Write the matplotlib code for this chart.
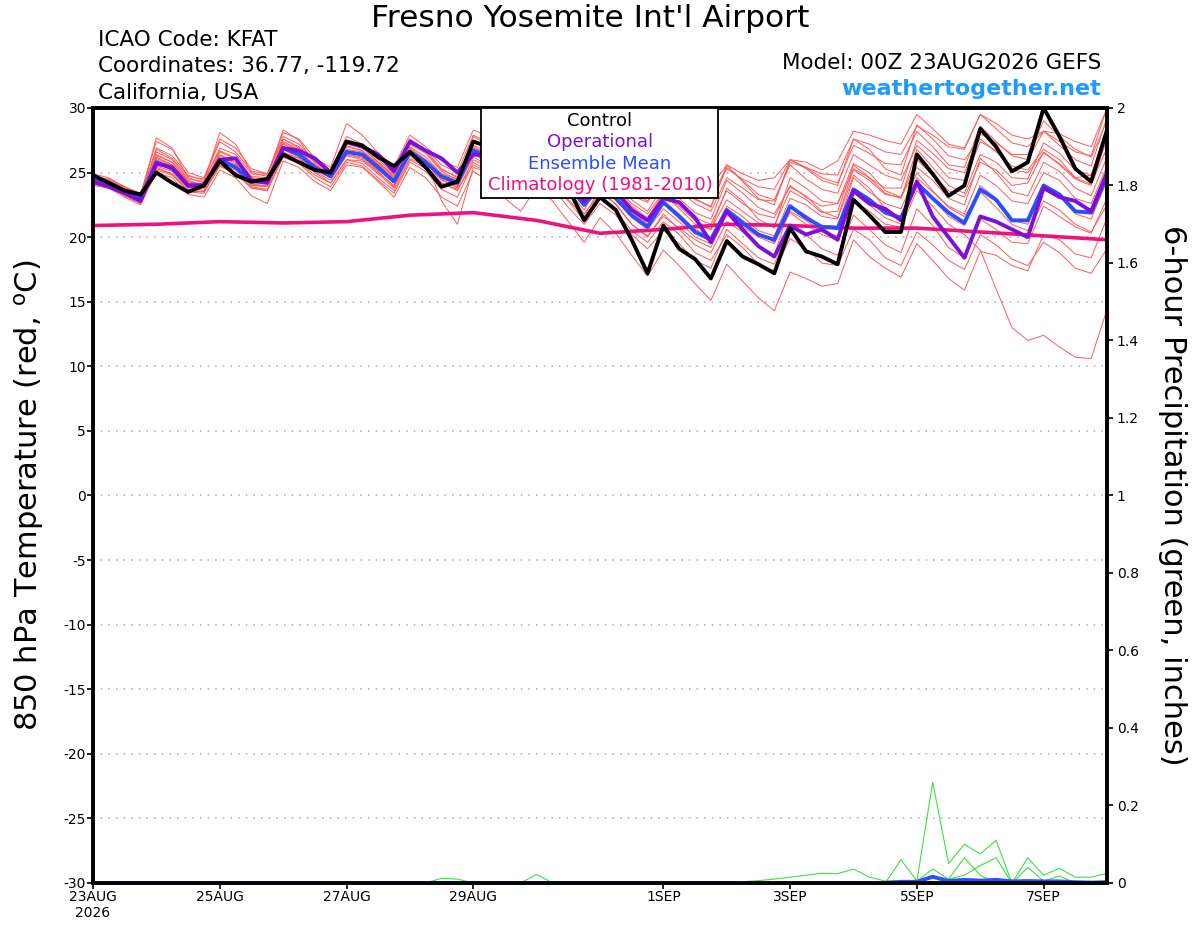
import matplotlib
matplotlib.use('Agg')
import matplotlib.pyplot as plt
from matplotlib.patches import Rectangle

plt.rcParams['font.family'] = ['DejaVu Sans']
plt.rcParams['axes.unicode_minus'] = False

# forecast hours (6-hourly) and daily climatology hours
hours = list(range(0, 385, 6))
clim_hours = list(range(0, 385, 24))

control = [24.8, 24.2, 23.6, 23.3, 25.0, 24.2, 23.5, 24.0, 25.9, 24.8, 24.3, 24.5,
           26.4, 25.8, 25.2, 25.0, 27.4, 27.1, 26.2, 25.5, 26.6, 25.4, 23.9, 24.3,
           27.4, 27.0, 26.0, 24.8, 26.4, 25.3, 23.8, 21.3, 23.1, 22.1, 19.8, 17.2,
           20.9, 19.1, 18.3, 16.8, 19.7, 18.5, 17.9, 17.2, 20.7, 18.9, 18.5, 17.9,
           22.9, 21.7, 20.4, 20.4, 26.4, 24.9, 23.2, 24.0, 28.4, 27.0, 25.1, 25.8,
           30.0, 27.8, 25.3, 24.3, 28.3]
operational = [24.3, 23.9, 23.4, 22.8, 25.7, 25.4, 24.0, 24.0, 26.0, 26.1, 24.4, 24.2,
               26.9, 26.7, 26.1, 25.0, 27.4, 27.0, 26.4, 25.1, 27.4, 26.7, 26.1, 25.0,
               26.4, 26.3, 25.8, 24.6, 26.8, 25.5, 24.3, 22.8, 24.5, 23.5, 22.1, 21.3,
               23.0, 22.7, 21.5, 19.6, 22.0, 20.6, 19.3, 18.5, 20.9, 20.2, 20.6, 19.8,
               23.6, 22.6, 22.2, 21.3, 24.3, 21.6, 20.0, 18.4, 21.6, 21.2, 20.6, 20.0,
               23.8, 23.1, 22.8, 22.0, 25.0]
ens_mean = [24.4, 24.2, 23.6, 23.0, 25.8, 25.3, 24.0, 24.0, 26.0, 25.4, 24.3, 24.3,
            26.9, 26.4, 25.4, 24.7, 26.6, 26.4, 25.4, 24.3, 26.6, 25.8, 24.7, 24.2,
            26.7, 26.2, 25.6, 24.8, 26.0, 25.2, 24.0, 22.5, 24.0, 23.0, 21.7, 20.8,
            22.7, 21.6, 20.4, 19.8, 22.1, 21.1, 20.2, 19.8, 22.4, 21.5, 20.8, 20.7,
            23.7, 22.9, 21.9, 21.5, 24.2, 23.0, 21.9, 21.1, 23.7, 22.9, 21.3, 21.3,
            24.0, 23.3, 22.0, 21.9, 24.7]
climatology = [20.9, 21.0, 21.2, 21.1, 21.2, 21.7, 21.9, 21.3, 20.3, 20.6, 21.0,
               20.9, 20.7, 20.7, 20.4, 20.1, 19.8]

member_01 = [24.9, 24.6, 23.9, 23.3, 27.4, 26.8, 25.0, 24.6, 27.6, 26.9, 25.3, 24.9,
             28.1, 27.6, 26.1, 25.4, 28.8, 27.9, 26.5, 25.5, 27.9, 27.0, 25.9, 25.4,
             28.3, 27.8, 27.0, 26.2, 27.5, 26.8, 25.4, 24.3, 26.2, 25.8, 24.5, 23.8,
             25.8, 25.0, 24.1, 23.9, 25.6, 24.9, 24.4, 24.6, 26.0, 25.8, 25.2, 25.9,
             28.2, 27.9, 27.5, 27.2, 29.5, 28.4, 27.2, 26.9, 29.5, 28.8, 27.9, 27.6,
             28.2, 28.0, 27.4, 27.0, 30.0]
member_02 = [24.1, 23.9, 23.2, 22.6, 25.2, 24.8, 23.6, 23.5, 25.5, 24.9, 23.8, 23.6,
             26.5, 26.1, 25.0, 24.2, 26.0, 25.9, 24.9, 23.8, 26.1, 25.5, 24.2, 23.6,
             26.0, 25.4, 24.6, 23.9, 25.3, 24.9, 23.5, 21.8, 23.4, 22.6, 21.0, 20.1,
             21.6, 20.7, 19.8, 19.2, 21.8, 20.8, 20.0, 19.5, 22.0, 21.3, 20.4, 20.1,
             22.8, 22.0, 21.0, 20.8, 23.6, 22.4, 21.0, 20.2, 19.0, 16.0, 13.0, 12.0,
             12.4, 11.5, 10.7, 10.6, 14.4]
member_03 = [24.2, 23.8, 23.1, 22.5, 25.0, 24.6, 23.3, 23.1, 25.2, 24.6, 23.2, 22.6,
             25.9, 25.4, 24.3, 23.6, 25.6, 25.4, 24.3, 23.1, 25.4, 24.6, 23.1, 22.4,
             25.1, 24.3, 23.0, 22.0, 23.9, 22.8, 21.2, 19.6, 21.5, 20.3, 18.6, 17.0,
             19.0, 17.8, 16.4, 15.1, 17.9, 16.6, 15.3, 14.3, 17.3, 16.8, 16.2, 16.4,
             19.8, 18.5, 17.6, 16.9, 19.5, 18.2, 16.8, 15.9, 18.9, 18.6, 17.8, 17.4,
             20.2, 19.8, 18.7, 18.4, 21.5]
member_04 = [24.7, 24.5, 23.9, 23.4, 26.6, 26.0, 24.5, 24.3, 26.9, 26.4, 24.9, 24.8,
             27.8, 27.2, 25.9, 25.1, 27.5, 27.1, 26.0, 24.9, 27.4, 26.6, 25.2, 24.7,
             27.5, 27.0, 26.4, 25.6, 26.9, 26.3, 25.2, 24.0, 25.4, 24.6, 23.5, 22.8,
             24.5, 23.6, 22.6, 22.0, 24.6, 23.8, 22.9, 22.8, 25.8, 25.4, 24.6, 24.2,
             27.1, 26.5, 25.7, 25.6, 28.2, 27.0, 25.6, 25.4, 28.6, 27.4, 26.3, 26.0,
             28.2, 27.1, 26.0, 25.5, 29.3]
member_05 = [24.5, 24.3, 23.8, 23.2, 26.2, 25.6, 24.3, 24.1, 26.4, 25.8, 24.6, 24.5,
             27.4, 26.8, 25.8, 25.0, 27.0, 26.7, 25.7, 24.6, 27.0, 26.2, 24.9, 24.3,
             27.0, 26.4, 25.5, 24.6, 26.3, 25.6, 24.6, 23.4, 24.8, 23.9, 22.6, 21.8,
             23.5, 22.6, 21.5, 21.0, 23.6, 22.6, 21.8, 21.5, 24.0, 23.1, 22.4, 22.6,
             25.7, 25.0, 23.6, 23.1, 26.0, 24.8, 23.6, 23.1, 25.8, 25.2, 24.0, 24.2,
             26.6, 25.6, 24.5, 24.0, 27.6]
member_06 = [24.0, 23.8, 23.3, 22.7, 25.4, 24.9, 23.7, 23.5, 25.5, 25.0, 23.9, 23.7,
             26.3, 25.8, 24.8, 24.2, 26.0, 25.7, 24.6, 23.6, 26.0, 25.3, 24.2, 23.7,
             25.6, 25.0, 24.2, 23.4, 24.6, 23.8, 22.3, 21.0, 22.6, 21.7, 20.2, 19.1,
             20.5, 19.5, 18.2, 17.6, 20.6, 19.5, 18.4, 17.9, 20.8, 20.2, 19.1, 18.6,
             21.7, 20.6, 19.4, 18.8, 22.2, 20.9, 19.2, 18.4, 21.4, 20.6, 19.6, 19.5,
             22.4, 21.6, 20.8, 20.3, 23.0]
member_07 = [24.6, 24.3, 23.7, 23.1, 26.0, 25.5, 24.1, 24.2, 26.3, 25.7, 24.5, 24.4,
             27.2, 26.6, 25.6, 24.9, 26.8, 26.6, 25.6, 24.5, 26.9, 26.0, 24.9, 24.5,
             26.9, 26.4, 25.8, 25.0, 26.5, 25.9, 24.8, 23.1, 24.6, 23.8, 22.4, 21.5,
             23.4, 22.2, 21.0, 20.6, 22.9, 22.0, 21.1, 20.9, 23.6, 22.9, 21.9, 22.0,
             25.6, 24.6, 23.4, 23.0, 26.8, 25.4, 24.0, 23.4, 26.4, 25.8, 24.6, 24.5,
             27.3, 26.5, 25.2, 24.8, 28.4]
member_08 = [24.3, 24.0, 23.4, 22.8, 25.5, 25.1, 23.8, 23.8, 25.7, 25.2, 24.0, 24.0,
             26.6, 26.1, 25.1, 24.4, 26.3, 26.0, 25.0, 24.0, 26.3, 25.5, 24.4, 23.9,
             26.2, 25.5, 24.8, 24.0, 25.8, 25.1, 23.9, 22.4, 23.6, 22.9, 21.5, 20.6,
             22.2, 21.2, 20.0, 19.5, 22.2, 21.3, 20.3, 19.6, 21.9, 21.0, 20.2, 19.8,
             23.4, 22.5, 21.5, 21.0, 24.2, 23.0, 21.6, 20.9, 24.0, 23.0, 21.3, 21.0,
             23.9, 23.2, 21.8, 21.4, 24.4]
member_09 = [24.8, 24.4, 23.8, 23.0, 26.9, 26.3, 24.8, 24.4, 26.7, 26.1, 24.5, 24.3,
             27.6, 26.9, 25.4, 24.6, 27.2, 26.9, 25.8, 24.8, 27.5, 26.7, 25.3, 24.6,
             27.1, 26.6, 25.9, 25.0, 26.8, 26.2, 25.1, 23.6, 25.2, 24.3, 23.2, 22.7,
             24.6, 23.9, 22.9, 22.4, 25.4, 24.4, 23.3, 22.9, 25.6, 24.5, 23.7, 23.4,
             26.4, 25.6, 24.8, 24.4, 27.1, 26.0, 24.6, 24.4, 27.4, 26.7, 25.2, 25.0,
             26.5, 25.7, 24.6, 24.1, 26.9]
member_10 = [24.2, 24.0, 23.5, 22.9, 25.8, 25.3, 23.9, 23.6, 25.9, 25.3, 24.1, 24.0,
             26.8, 26.2, 25.2, 24.6, 26.4, 26.1, 25.1, 23.9, 26.7, 25.9, 22.8, 21.0,
             25.4, 25.0, 24.2, 23.5, 25.0, 24.4, 22.9, 21.6, 23.8, 22.5, 21.0, 20.0,
             21.8, 20.6, 19.4, 18.8, 21.2, 20.4, 19.3, 18.6, 22.4, 21.7, 20.8, 20.8,
             24.6, 23.5, 22.6, 22.2, 25.0, 23.6, 22.3, 21.6, 23.5, 22.3, 21.0, 20.5,
             22.8, 22.1, 21.0, 20.4, 22.5]
member_11 = [24.7, 24.4, 23.7, 23.2, 27.7, 26.9, 24.6, 24.2, 28.1, 27.2, 25.0, 24.7,
             28.3, 27.5, 25.7, 24.8, 27.4, 27.0, 25.8, 24.7, 27.2, 26.5, 25.1, 24.4,
             27.8, 27.1, 26.2, 25.3, 27.0, 26.4, 25.0, 23.8, 25.8, 25.1, 23.9, 23.3,
             25.0, 24.1, 23.0, 22.3, 25.6, 24.3, 23.0, 22.5, 26.0, 25.3, 24.4, 24.0,
             27.6, 26.8, 25.3, 24.8, 28.7, 27.6, 26.3, 26.0, 27.6, 26.6, 25.5, 25.2,
             26.8, 26.0, 24.6, 24.8, 28.0]
member_12 = [24.4, 24.1, 23.5, 22.9, 26.4, 25.8, 24.4, 24.0, 26.1, 25.6, 24.3, 24.2,
             27.0, 26.4, 25.4, 24.8, 26.7, 26.4, 25.3, 24.2, 26.8, 26.0, 24.7, 24.1,
             26.6, 26.0, 25.3, 24.5, 26.0, 25.3, 24.2, 22.9, 24.1, 23.3, 22.0, 21.0,
             22.8, 21.8, 20.6, 20.0, 22.4, 21.6, 20.5, 20.1, 23.0, 22.5, 21.6, 21.4,
             24.8, 23.8, 22.2, 21.5, 24.6, 23.5, 22.4, 21.8, 24.8, 24.0, 22.8, 22.6,
             25.0, 24.4, 23.0, 22.6, 25.5]
member_13 = [24.6, 24.4, 23.8, 23.3, 26.8, 26.1, 24.7, 24.5, 27.4, 26.6, 25.1, 24.9,
             27.6, 27.0, 25.9, 25.2, 27.8, 27.2, 26.2, 25.2, 27.6, 26.8, 25.6, 25.0,
             27.9, 27.3, 26.6, 25.9, 27.2, 26.5, 25.3, 24.0, 25.6, 25.0, 24.0, 23.4,
             25.2, 24.5, 23.6, 23.2, 25.3, 24.5, 23.9, 23.7, 26.0, 25.4, 24.9, 24.8,
             27.6, 27.2, 26.6, 26.4, 28.6, 27.9, 27.0, 26.8, 29.5, 28.4, 27.3, 27.0,
             28.2, 27.4, 26.6, 26.3, 30.0]
member_14 = [24.1, 23.9, 23.3, 22.7, 25.3, 24.9, 23.5, 23.4, 25.6, 25.0, 23.8, 23.6,
             26.2, 25.7, 24.6, 23.9, 25.8, 25.5, 24.4, 23.4, 25.8, 25.1, 23.7, 23.1,
             25.8, 25.1, 24.3, 23.4, 24.9, 24.2, 22.8, 21.3, 23.0, 22.0, 20.5, 19.6,
             21.2, 20.2, 18.8, 18.2, 20.2, 19.2, 17.9, 17.4, 19.9, 19.1, 18.0, 17.8,
             20.6, 19.8, 18.4, 17.8, 20.4, 19.4, 18.2, 17.5, 20.2, 19.4, 18.3, 17.8,
             19.6, 18.8, 17.6, 17.2, 19.1]
member_15 = [24.5, 24.2, 23.6, 23.0, 26.1, 25.6, 24.2, 23.9, 26.0, 25.4, 24.0, 23.9,
             26.9, 26.3, 25.3, 24.7, 26.4, 26.2, 25.2, 24.3, 26.4, 25.7, 24.6, 24.0,
             26.4, 25.8, 25.1, 24.3, 25.5, 24.9, 23.6, 22.1, 24.4, 23.6, 22.3, 21.3,
             23.2, 22.4, 21.3, 20.6, 23.8, 22.8, 21.4, 20.7, 24.6, 23.8, 22.8, 22.6,
             25.2, 24.4, 23.3, 23.1, 25.4, 24.4, 23.0, 22.5, 26.1, 25.0, 23.5, 23.2,
             25.8, 25.1, 23.8, 23.2, 26.2]
member_16 = [24.3, 24.1, 23.6, 23.1, 26.3, 25.8, 24.3, 24.0, 26.6, 26.1, 24.7, 24.6,
             27.3, 26.7, 25.5, 24.7, 27.1, 26.7, 25.6, 24.3, 26.6, 25.7, 24.5, 23.8,
             26.8, 26.3, 25.6, 24.8, 26.2, 25.5, 24.4, 22.9, 24.9, 24.1, 22.9, 22.0,
             24.0, 23.0, 21.9, 21.4, 24.4, 23.4, 22.3, 21.8, 23.9, 23.2, 22.0, 21.5,
             25.3, 24.6, 23.8, 23.8, 27.5, 26.5, 25.3, 25.0, 28.0, 27.3, 26.4, 26.4,
             29.0, 27.8, 26.8, 26.2, 29.0]
members = [member_01, member_02, member_03, member_04, member_05, member_06,
           member_07, member_08, member_09, member_10, member_11, member_12,
           member_13, member_14, member_15, member_16]

# 6-hour precipitation (inches), members with any rain; the rest stay at zero
precip_a = [0.0] * 50 + [0.0, 0.06, 0.005, 0.26, 0.05, 0.10, 0.075, 0.11, 0.0,
                         0.065, 0.02, 0.038, 0.015, 0.015, 0.025]
precip_b = [0.0] * 50 + [0.0, 0.0, 0.005, 0.036, 0.01, 0.065, 0.02, 0.0, 0.0,
                         0.04, 0.005, 0.018, 0.0, 0.0, 0.0]
precip_c = [0.0] * 40 + [0.0, 0.003, 0.006, 0.01, 0.015, 0.02, 0.025, 0.024,
                         0.036, 0.015, 0.005, 0.005, 0.0, 0.0, 0.0, 0.0, 0.0,
                         0.0, 0.0, 0.0, 0.0, 0.0, 0.0, 0.0, 0.0]
precip_d = [0.0] * 53 + [0.0, 0.01, 0.02, 0.045, 0.065, 0.0, 0.0, 0.0, 0.0, 0.0,
                         0.0, 0.0]
precip_e = [0.0] * 22 + [0.012, 0.01, 0.0, 0.0, 0.0, 0.0, 0.022] + [0.0] * 36
precip_members = [precip_a, precip_b, precip_c, precip_d, precip_e]
precip_mean = [0.0] * 51 + [0.003, 0.003, 0.016, 0.005, 0.008, 0.006, 0.008,
                            0.004, 0.005, 0.004, 0.004, 0.002, 0.001, 0.002]

tick_hours = [0, 48, 96, 144, 216, 264, 312, 360]
tick_labels = ['23AUG\n2026', '25AUG', '27AUG', '29AUG', '1SEP', '3SEP', '5SEP', '7SEP']
temp_ticks = list(range(-30, 31, 5))
precip_ticks = [0, 0.2, 0.4, 0.6, 0.8, 1, 1.2, 1.4, 1.6, 1.8, 2]
precip_tick_labels = ['0', '0.2', '0.4', '0.6', '0.8', '1', '1.2', '1.4', '1.6', '1.8', '2']

fig = plt.figure(figsize=(12, 9.27), dpi=100)
ax = fig.add_axes([0.0775, 0.0475, 0.845, 0.836])

for m in members:
    ax.plot(hours, m, color='#ff5a5a', lw=0.7, zorder=2)
ax.plot(clim_hours, climatology, color='#f0107f', lw=2.6, zorder=3)
ax.plot(hours, ens_mean, color='#2a4dff', lw=2.8, zorder=4)
ax.plot(hours, operational, color='#7d10d8', lw=2.8, zorder=5)
ax.plot(hours, control, color='black', lw=2.8, zorder=6)

ax.set_xlim(0, 384)
ax.set_ylim(-30, 30)
ax.set_yticks(temp_ticks)
ax.set_xticks(tick_hours)
ax.set_xticklabels(tick_labels)
for t in temp_ticks:
    ax.axhline(t, color='#aaaaaa', lw=1.1, ls=(0, (1, 4)), zorder=1)
ax.tick_params(axis='both', labelsize=10, direction='out', length=4, width=1.2, pad=1)
for sp in ax.spines.values():
    sp.set_linewidth(2.6)

ax2 = ax.twinx()
ax2.set_ylim(0, 2)
ax2.set_yticks(precip_ticks)
ax2.set_yticklabels(precip_tick_labels)
ax2.tick_params(axis='y', labelsize=10, direction='out', length=4, width=1.2, pad=3)
for sp in ax2.spines.values():
    sp.set_linewidth(2.6)
for p in precip_members:
    ax2.plot(hours, p, color='#3ee03e', lw=0.8, zorder=2)
ax2.plot(hours, precip_mean, color='#2a4dff', lw=2.8, zorder=2.2)

# legend box at top centre
box = Rectangle((0.3826, 0.8839), 0.2338, 0.1161, transform=ax2.transAxes,
                facecolor='white', edgecolor='black', lw=1.3, zorder=10)
ax2.add_patch(box)
legend_rows = [('Control', 'black', 0.983), ('Operational', '#7d10d8', 0.956),
               ('Ensemble Mean', '#2a4dff', 0.928),
               ('Climatology (1981-2010)', '#f0107f', 0.900)]
for txt, col, yy in legend_rows:
    ax2.text(0.5, yy, txt, color=col, fontsize=13, ha='center', va='center',
             transform=ax2.transAxes, zorder=11)

fig.text(0.4917, 0.980, "Fresno Yosemite Int'l Airport", fontsize=22.5, ha='center', va='center')
fig.text(0.0817, 0.957, 'ICAO Code: KFAT', fontsize=15.5, ha='left', va='center')
fig.text(0.0817, 0.929, 'Coordinates: 36.77, -119.72', fontsize=15.5, ha='left', va='center')
fig.text(0.0817, 0.900, 'California, USA', fontsize=15.5, ha='left', va='center')
fig.text(0.9175, 0.932, 'Model: 00Z 23AUG2026 GEFS', fontsize=15.5, ha='right', va='center')
fig.text(0.9175, 0.904, 'weathertogether.net', fontsize=16, ha='right', va='center',
         color='#1e9bff', fontweight='bold')
fig.text(0.024, 0.466, r'850 hPa Temperature (red, $^\mathrm{o}$C)', fontsize=22,
         rotation=90, ha='center', va='center')
fig.text(0.977, 0.466, '6-hour Precipitation (green, inches)', fontsize=22,
         rotation=270, ha='center', va='center')

fig.savefig('out.png', dpi=100)
